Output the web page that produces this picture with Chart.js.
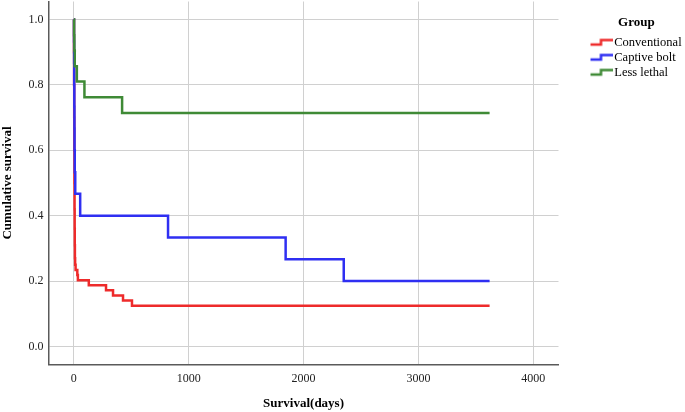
<!DOCTYPE html>
<html>
<head>
<meta charset="utf-8">
<script src="https://cdn.jsdelivr.net/npm/chart.js@4.4.1/dist/chart.umd.min.js"></script>
<style>
  body { margin: 0; background: #fff; }
  #wrap { width: 685px; height: 412px; }
</style>
</head>
<body>
<div id="wrap"><canvas id="km"></canvas></div>
<script>
// Kaplan-Meier curves (days, cumulative survival)
const groups = ["Conventional", "Captive bolt", "Less lethal"];
const colors = ["#ee2b2b", "#2f2ff2", "#3f8a36"];

const conventionalDays = [0, 1, 2, 3, 4, 5, 6, 7, 8, 9, 11, 15, 30, 35, 130, 280, 341, 428, 506, 3620];
const conventionalSurv = [1.0, 0.9, 0.8, 0.7, 0.6, 0.5, 0.42, 0.36, 0.31, 0.27, 0.25, 0.234, 0.219, 0.203, 0.1875, 0.172, 0.156, 0.141, 0.125, 0.125];

const captiveDays = [0, 1, 2, 3, 4, 5, 6, 8, 12, 55, 820, 1844, 2350, 3620];
const captiveSurv = [1.0, 0.933, 0.867, 0.8, 0.733, 0.667, 0.6, 0.533, 0.467, 0.4, 0.333, 0.267, 0.2, 0.2];

const lessLethalDays = [0, 2, 4, 8, 26, 92, 420, 3620];
const lessLethalSurv = [1.0, 0.952, 0.905, 0.857, 0.81, 0.762, 0.714, 0.714];

const xTicks = [0, 1000, 2000, 3000, 4000];
const yTicks = [0, 0.2, 0.4, 0.6, 0.8, 1.0];

const serif = "'Liberation Serif', 'Times New Roman', serif";

// step symbol for the legend (blank on the left so the symbol sits off the plot)
function stepIcon(color) {
    const c = document.createElement('canvas');
    c.width = 56;
    c.height = 12;
    const g = c.getContext('2d');
    g.strokeStyle = color;
    g.lineWidth = 2.5;
    g.beginPath();
    g.moveTo(34, 8);
    g.lineTo(44.5, 8);
    g.lineTo(44.5, 3.5);
    g.lineTo(56, 3.5);
    g.stroke();
    return c;
}

function toPoints(days, surv) {
    return days.map((d, i) => ({ x: d, y: surv[i] }));
}

const series = [
    toPoints(conventionalDays, conventionalSurv),
    toPoints(captiveDays, captiveSurv),
    toPoints(lessLethalDays, lessLethalSurv)
];

const datasets = groups.map((g, i) => ({
    label: g,
    data: series[i],
    borderColor: colors[i],
    backgroundColor: colors[i],
    borderWidth: 2.5,
    stepped: 'before',
    pointRadius: 0,
    pointHoverRadius: 0,
    pointStyle: stepIcon(colors[i]),
    order: 3 - i
}));

const config = {
    type: 'line',
    data: { datasets: datasets },
    options: {
        responsive: true,
        maintainAspectRatio: false,
        animation: false,
        layout: {
            padding: { top: 1.5, right: 0, bottom: 0, left: 0 }
        },
        plugins: {
            tooltip: { enabled: false },
            legend: {
                position: 'right',
                align: 'start',
                maxWidth: 126.5,
                title: {
                    display: true,
                    text: '         Group',
                    color: '#000',
                    padding: { top: 14.5, bottom: 2.2 },
                    font: { family: serif, size: 13, weight: 'bold' }
                },
                labels: {
                    usePointStyle: true,
                    pointStyleWidth: 47,
                    boxHeight: 12,
                    padding: 2.5,
                    color: '#000',
                    font: { family: serif, size: 12.5 },
                    sort: (a, b) => a.datasetIndex - b.datasetIndex
                }
            }
        },
        scales: {
            x: {
                type: 'linear',
                min: -220,
                max: 4220,
                afterBuildTicks: (axis) => { axis.ticks = xTicks.map(v => ({ value: v })); },
                afterFit: (axis) => { axis.paddingLeft = 0; axis.paddingRight = 0; },
                grid: { color: '#d0d0d0', lineWidth: 1, drawTicks: false },
                border: { display: true, color: '#5a5a5a', width: 1.5 },
                ticks: {
                    padding: 7,
                    color: '#222',
                    font: { family: serif, size: 12 },
                    callback: (v) => String(v)
                },
                title: {
                    display: true,
                    text: 'Survival(days)',
                    color: '#000',
                    padding: { top: 2.5, bottom: 1 },
                    font: { family: serif, size: 13, weight: 'bold' }
                }
            },
            y: {
                min: -0.055,
                max: 1.055,
                afterBuildTicks: (axis) => { axis.ticks = yTicks.map(v => ({ value: v })); },
                afterFit: (axis) => { axis.paddingTop = 0; axis.paddingBottom = 0; },
                grid: { color: '#d0d0d0', lineWidth: 1, drawTicks: false },
                border: { display: true, color: '#5a5a5a', width: 1.5 },
                ticks: {
                    padding: 5,
                    color: '#222',
                    font: { family: serif, size: 12 },
                    callback: (v) => v.toFixed(1)
                },
                title: {
                    display: true,
                    text: 'Cumulative survival',
                    color: '#000',
                    padding: { top: 0, bottom: 8 },
                    font: { family: serif, size: 13, weight: 'bold' }
                }
            }
        }
    }
};

const ctx = document.getElementById('km').getContext('2d');
const chart = new Chart(ctx, config);
</script>
</body>
</html>
